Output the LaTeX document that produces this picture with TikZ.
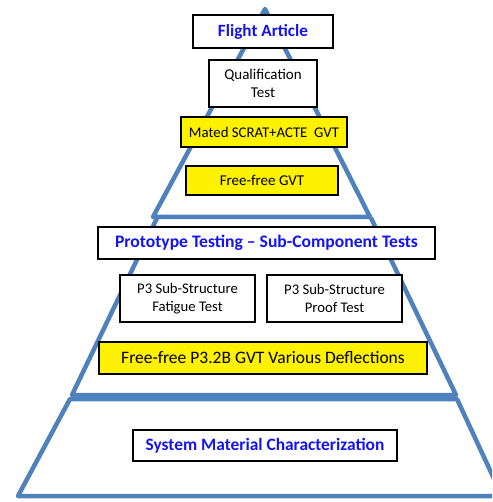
\documentclass[tikz,border=0pt]{standalone}
\usepackage{fontspec}
\setmainfont{Carlito}
\definecolor{pyrblue}{RGB}{79,129,189}
\definecolor{headblue}{RGB}{20,20,240}
\tikzset{
  tier/.style={draw=pyrblue, line width=4.5pt, line join=round},
  plainbox/.style={draw=black, line width=1.6pt, fill=white, inner sep=0pt,
    align=center, font=\fontsize{15}{18}\selectfont},
  headbox/.style={plainbox, text=headblue, font=\fontsize{17.2}{20}\selectfont\bfseries},
  gvtbox/.style={plainbox, fill=yellow},
}
\begin{document}
\begin{tikzpicture}[x=1pt,y=-1pt]
\useasboundingbox (0,0) rectangle (492,502);
\clip (0,0) rectangle (492,502);

% pyramid tiers
\draw[tier] (265,9) -- (153,217) -- (370,217) -- cycle;
\draw[tier] (157,218) -- (72,395) -- (456,395) -- (371,218);
\draw[tier] (70,399) -- (18,496) -- (502,496) -- (457,399) -- cycle;

% top tier
\node[headbox, minimum width=140, minimum height=33] (flight) at (263,31.5) {Flight Article};
\node[plainbox, minimum width=108, minimum height=47] (qual) at (263,83.5) {Qualification\\Test};
\node[gvtbox, minimum width=166, minimum height=30, font=\fontsize{14.8}{17}\selectfont] (mated) at (264,132) {Mated SCRAT+ACTE\ \ GVT};
\node[gvtbox, minimum width=152, minimum height=29] (freegvt) at (262,180.5) {Free-free GVT};

% middle tier
\node[headbox, minimum width=337, minimum height=32, font=\fontsize{17.6}{20}\selectfont\bfseries] (proto) at (266.5,243) {Prototype Testing -- Sub-Component Tests};
\node[plainbox, minimum width=135, minimum height=47, font=\fontsize{14.7}{18}\selectfont] (fatigue) at (187.5,298.5) {P3 Sub-Structure\\Fatigue Test};
\node[plainbox, minimum width=135, minimum height=47, font=\fontsize{14.7}{18}\selectfont] (proof) at (334.5,298.5) {P3 Sub-Structure\\Proof Test};
\node[gvtbox, minimum width=328, minimum height=32, font=\fontsize{17.5}{20}\selectfont] (defl) at (263,358) {Free-free P3.2B GVT Various Deflections};

% bottom tier
\node[headbox, minimum width=264, minimum height=31, font=\fontsize{17.4}{20}\selectfont\bfseries] (material) at (265,445.5) {System Material Characterization};
\end{tikzpicture}
\end{document}
